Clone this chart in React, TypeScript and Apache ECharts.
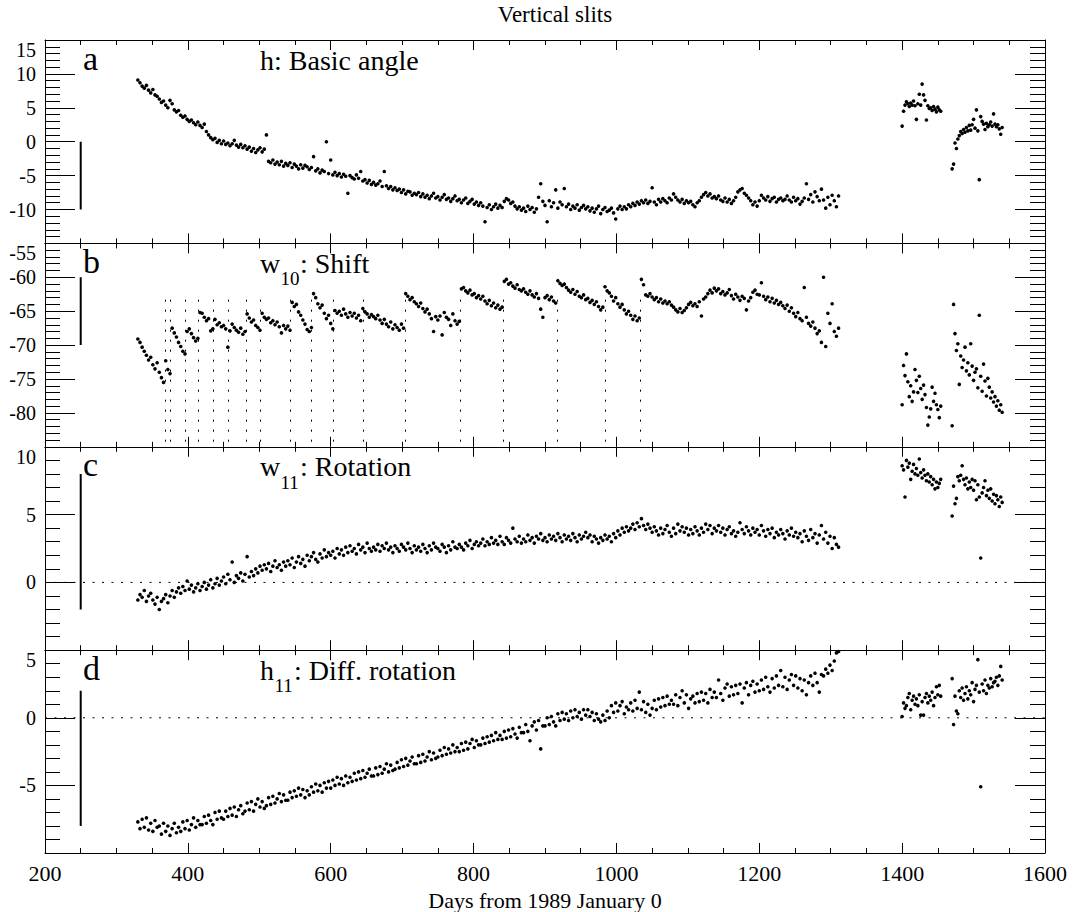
import React, { useEffect, useRef } from "react";
import * as echarts from "echarts";

// Observation days (days from 1989 January 0)
const DAYS = [
  330, 333, 336, 339, 342, 345, 348, 351, 354, 357,
  360, 363, 366, 369, 372, 375, 378, 381, 384, 387,
  390, 393, 396, 399, 402, 405, 408, 411, 414, 417,
  420, 423, 426, 429, 432, 435, 438, 441, 444, 447,
  450, 453, 456, 459, 462, 465, 468, 471, 474, 477,
  480, 483, 486, 489, 492, 495, 498, 501, 504, 507,
  510, 513, 516, 519, 522, 525, 528, 531, 534, 537,
  540, 543, 546, 549, 552, 555, 558, 561, 564, 567,
  570, 573, 576, 579, 582, 585, 588, 591, 594, 597,
  600, 603, 606, 609, 612, 615, 618, 621, 624, 627,
  630, 633, 636, 639, 642, 645, 648, 651, 654, 657,
  660, 663, 666, 669, 672, 675, 678, 681, 684, 687,
  690, 693, 696, 699, 702, 705, 708, 711, 714, 717,
  720, 723, 726, 729, 732, 735, 738, 741, 744, 747,
  750, 753, 756, 759, 762, 765, 768, 771, 774, 777,
  780, 783, 786, 789, 792, 795, 798, 801, 804, 807,
  810, 813, 816, 819, 822, 825, 828, 831, 834, 837,
  840, 843, 846, 849, 852, 855, 858, 861, 864, 867,
  870, 873, 876, 879, 882, 885, 888, 891, 894, 897,
  900, 903, 906, 909, 912, 915, 918, 921, 924, 927,
  930, 933, 936, 939, 942, 945, 948, 951, 954, 957,
  960, 963, 966, 969, 972, 975, 978, 981, 984, 987,
  990, 993, 996, 999, 1002, 1005, 1008, 1011, 1014, 1017,
  1020, 1023, 1026, 1029, 1032, 1035, 1038, 1041, 1044, 1047,
  1050, 1053, 1056, 1059, 1062, 1065, 1068, 1071, 1074, 1077,
  1080, 1083, 1086, 1089, 1092, 1095, 1098, 1101, 1104, 1107,
  1110, 1113, 1116, 1119, 1122, 1125, 1128, 1131, 1134, 1137,
  1140, 1143, 1146, 1149, 1152, 1155, 1158, 1161, 1164, 1167,
  1170, 1173, 1176, 1179, 1182, 1185, 1188, 1191, 1194, 1197,
  1200, 1203, 1206, 1209, 1212, 1215, 1218, 1221, 1224, 1227,
  1230, 1233, 1236, 1239, 1242, 1245, 1248, 1251, 1254, 1257,
  1260, 1263, 1266, 1269, 1272, 1275, 1278, 1281, 1284, 1287,
  1290, 1293, 1296, 1299, 1302, 1305, 1308, 1311,
  1400, 1402, 1404, 1406, 1408, 1410, 1412, 1414, 1416, 1418,
  1420, 1422, 1424, 1426, 1428, 1430, 1432, 1434, 1436, 1438,
  1440, 1442, 1444, 1446, 1448, 1450, 1452, 1454,
  1470, 1472, 1474, 1476, 1478, 1480, 1482, 1484, 1486, 1488,
  1490, 1492, 1494, 1496, 1498, 1500, 1502, 1504, 1506, 1508,
  1510, 1512, 1514, 1516, 1518, 1520, 1522, 1524, 1526, 1528,
  1530, 1532, 1534, 1536, 1538, 1540,
];

// a: h, Basic angle
const H_BASIC = [
  9.1, 8.7, 8.2, 7.9, 8.3, 7.6, 7.2, 7.7, 6.9, 6.7,
  6.3, 5.8, 6.0, 5.4, 5.0, 6.1, 5.6, 4.7, 4.4, 4.6,
  3.9, 3.6, 3.8, 3.3, 3.0, 3.2, 2.8, 2.5, 2.9, 2.4,
  2.1, 2.6, 1.5, 1.0, 0.6, 0.3, 0.5, -0.1, 0.2, -0.3,
  0.1, -0.4, -0.2, -0.6, -0.3, 0.2, -0.5, -0.8, -0.4, -0.9,
  -0.6, -1.1, -0.8, -1.4, -1.0, -1.6, -1.2, -0.9, -1.5, -1.1,
  1.0, -2.9, -3.1, -2.7, -3.3, -3.0, -3.4, -2.9, -3.6, -3.2,
  -3.5, -3.1, -3.8, -3.3, -3.6, -4.0, -3.4, -3.9, -3.5, -3.7,
  -4.1, -3.8, -2.2, -4.3, -4.0, -4.6, -4.2, -4.4, 0.0, -4.7,
  -2.7, -4.9, -4.5, -5.0, -4.7, -5.2, -4.8, -5.1, -7.6, -5.0,
  -5.3, -5.5, -4.9, -5.4, -4.4, -5.8, -5.6, -6.1, -5.7, -6.3,
  -6.0, -6.4, -6.2, -5.8, -6.6, -4.4, -6.5, -6.9, -6.6, -7.1,
  -6.8, -7.2, -7.0, -7.5, -7.1, -7.7, -7.3, -7.4, -7.9, -7.6,
  -7.8, -7.5, -8.1, -7.7, -8.2, -7.9, -8.4, -8.0, -7.6, -8.3,
  -8.1, -8.6, -8.2, -7.8, -8.5, -8.3, -8.8, -8.4, -8.0, -8.7,
  -8.5, -9.0, -8.6, -8.3, -9.1, -8.8, -8.5, -9.2, -8.9, -9.4,
  -9.0, -9.5, -11.8, -9.7, -9.3, -10.0, -9.6, -9.2, -9.8, -9.4,
  -9.7, -8.8, -8.4, -8.6, -9.1, -8.9, -9.5, -9.9, -9.6, -10.1,
  -9.8, -10.3, -9.5, -10.0, -9.7, -10.4, -9.9, -8.2, -6.2, -8.8,
  -9.4, -11.8, -8.7, -9.6, -9.0, -7.1, -9.8, -8.9, -9.3, -6.9,
  -9.6, -9.2, -10.0, -9.5, -9.8, -9.3, -10.1, -9.7, -9.4, -9.9,
  -9.6, -10.2, -9.8, -10.4, -9.9, -9.5, -10.6, -10.0, -9.7, -10.3,
  -10.1, -9.8, -10.5, -11.4, -9.9, -9.5, -10.0, -9.6, -9.9, -9.3,
  -9.6, -9.1, -9.4, -8.9, -9.2, -8.7, -9.0, -8.6, -9.1, -8.8,
  -6.8, -8.9, -9.3, -8.5, -8.9, -8.4, -8.7, -9.0, -8.3, -8.6,
  -7.7, -8.2, -8.6, -8.9, -8.5, -9.1, -8.7, -9.0, -8.8, -9.3,
  -9.6, -9.0, -8.7, -8.2, -7.8, -7.5, -8.0, -7.7, -8.3, -8.1,
  -8.4, -8.0, -8.6, -8.8, -8.3, -8.9, -8.5, -9.1, -8.7, -8.2,
  -7.4, -7.1, -6.9, -7.6, -7.9, -8.3, -8.7, -9.3, -8.9, -9.5,
  -8.7, -7.9, -8.3, -8.6, -8.1, -8.8, -8.4, -8.2, -8.9, -8.5,
  -8.3, -8.7, -8.5, -8.0, -8.6, -8.9, -8.2, -8.7, -8.4, -9.2,
  -8.8, -8.3, -6.2, -8.5, -7.8, -8.9, -7.4, -8.1, -8.7, -7.0,
  -8.6, -9.8, -8.2, -9.3, -7.9, -8.7, -9.6, -8.0,
  2.3, 4.5, 5.4, 5.9, 5.6, 5.2, 5.7, 5.4, 6.0, 5.3,
  3.3, 5.6, 7.0, 5.4, 8.5, 6.9, 6.1, 3.2, 5.3, 4.9,
  5.0, 4.6, 5.2, 4.8, 4.4, 5.1, 4.7, 4.5,
  -4.0, -3.3, -0.2, -1.0, 0.4, 0.9, 1.5, 1.2, 1.8, 1.4,
  2.1, 1.6, 2.4, 1.7, 2.5, 3.3, 2.0, 4.7, 1.6, -5.6,
  3.7, 3.0, 2.6, 1.8, 2.7, 2.2, 2.5, 2.9, 2.3, 4.1,
  2.6, 2.2, 2.5, 1.9, 1.1, 2.1,
];

// b: w10, Shift
const W10_SHIFT = [
  -69.1, -69.6, -70.3, -70.9, -71.5, -72.2, -71.8, -72.9, -73.5, -72.6,
  -74.0, -74.8, -75.5, -72.3, -73.6, -74.2, -67.5, -68.2, -68.8, -69.6,
  -70.2, -70.9, -71.3, -68.0, -67.6, -68.3, -68.9, -69.4, -69.0, -65.2,
  -65.3, -65.9, -66.4, -66.1, -67.9, -67.6, -66.2, -67.0, -66.7, -67.3,
  -67.1, -67.6, -70.3, -67.9, -66.9, -67.4, -67.8, -68.1, -67.5, -68.4,
  -68.0, -65.4, -66.0, -66.6, -66.3, -67.1, -67.4, -67.8, -65.3, -65.9,
  -66.2, -66.0, -66.7, -66.4, -67.0, -66.6, -67.3, -68.2, -67.1, -67.6,
  -67.2, -67.8, -63.7, -64.3, -64.0, -65.1, -65.6, -66.3, -66.9, -67.7,
  -68.0, -67.4, -62.4, -63.0, -63.9, -64.5, -64.1, -65.3, -66.1, -65.6,
  -66.8, -67.6, -64.9, -65.3, -65.0, -65.6, -64.7, -65.4, -65.9, -65.2,
  -65.7, -65.3, -66.0, -65.6, -66.4, -64.6, -65.1, -65.4, -65.9, -65.5,
  -65.8, -66.1, -65.6, -66.3, -66.8, -66.2, -66.9, -67.3, -66.6, -67.6,
  -67.0, -67.4, -67.8, -66.9, -67.5, -62.4, -62.8, -63.3, -63.0, -63.6,
  -63.9, -64.3, -63.8, -64.6, -65.1, -64.7, -65.4, -66.1, -68.0, -65.8,
  -66.3, -65.7, -68.5, -65.2, -65.9, -66.2, -67.1, -65.4, -66.4, -66.9,
  -66.5, -61.7, -61.5, -62.0, -62.3, -61.9, -62.6, -62.4, -63.0, -62.7,
  -63.2, -62.8, -63.5, -63.9, -63.4, -64.2, -63.8, -64.5, -64.1, -64.7,
  -64.4, -60.6, -60.3, -61.0, -60.8, -61.3, -61.6, -61.1, -61.8, -62.0,
  -61.7, -62.2, -62.5, -62.0, -62.6, -62.9, -62.4, -63.1, -64.7, -65.9,
  -63.0, -62.7, -63.3, -62.9, -63.5, -63.8, -60.5, -60.9, -61.2, -61.0,
  -61.5, -61.9, -62.2, -61.8, -62.5, -62.1, -62.8, -63.0, -62.6, -63.3,
  -63.1, -63.7, -63.4, -64.0, -63.6, -64.3, -64.8, -64.4, -61.4, -62.0,
  -62.3, -62.8, -63.5, -63.0, -63.9, -64.4, -64.0, -64.8, -65.4, -65.0,
  -65.6, -66.2, -65.7, -66.4, -66.0, -60.3, -61.1, -62.6, -62.8, -62.4,
  -62.9, -63.3, -63.0, -63.6, -63.2, -63.8, -63.5, -63.9, -63.6, -64.1,
  -64.4, -64.8, -65.1, -64.6, -65.2, -64.9, -64.5, -64.0, -63.7, -64.2,
  -63.9, -64.3, -63.6, -65.7, -63.2, -62.9, -62.4, -61.9, -62.3, -61.6,
  -62.0, -61.7, -62.4, -62.1, -62.6, -62.3, -61.8, -62.7, -63.2, -62.5,
  -62.9, -63.4, -62.8, -63.1, -64.8, -63.5, -63.0, -62.2, -61.9, -62.5,
  -62.6, -60.8, -62.8, -63.3, -62.9, -63.6, -63.1, -63.8, -63.4, -64.0,
  -63.7, -64.2, -64.6, -64.1, -65.0, -64.5, -65.3, -65.8, -65.2, -66.1,
  -66.4, -61.5, -65.9, -66.8, -67.2, -66.6, -67.5, -68.3, -67.9, -69.6,
  -60.0, -70.2, -65.3, -66.8, -63.9, -68.0, -68.7, -67.5,
  -78.8, -73.0, -74.5, -71.3, -75.4, -77.6, -76.0, -78.3, -76.9, -73.6,
  -75.2, -77.0, -74.6, -76.4, -78.0, -75.9, -77.3, -79.2, -81.8, -80.6,
  -79.4, -76.2, -78.3, -77.1, -78.8, -79.5, -80.7, -79.0,
  -81.9, -64.0, -68.3, -70.8, -69.8, -75.8, -71.6, -73.3, -72.2, -70.3,
  -73.8, -72.6, -74.4, -69.8, -73.1, -75.2, -74.0, -73.5, -76.3, -65.6,
  -74.6, -76.8, -72.8, -75.3, -77.5, -74.9, -76.2, -77.8, -76.9, -78.4,
  -77.6, -79.0, -78.2, -79.6, -78.8, -79.9,
];

// c: w11, Rotation
const W11_ROTATION = [
  -1.3, -0.9, -1.1, -0.6, -1.4, -1.0, -0.8, -1.3, -1.6, -1.1,
  -2.0, -1.4, -1.2, -0.9, -1.5, -1.0, -0.6, -1.1, -0.7, -0.4,
  -0.8, -0.3, -0.6, 0.1, -0.5, -0.2, -0.7, -0.4, -0.1, -0.6,
  -0.3, 0.0, -0.5, -0.2, 0.2, -0.4, -0.1, 0.3, -0.2, 0.1,
  0.4, -0.1, 0.6, 0.2, 1.5, 0.0, 0.5, 0.3, 0.7, 0.1,
  0.6, 1.9, 0.4, 0.8, 0.5, 1.0, 0.7, 1.2, 0.9, 1.3,
  1.0, 1.4, 0.8, 1.2, 1.6, 1.1, 1.3, 0.9, 1.5, 1.2,
  1.6, 1.3, 1.8, 1.1, 1.5, 1.9, 1.4, 1.7, 1.2, 2.0,
  1.6, 1.9, 2.2, 1.7, 1.5, 2.1, 1.8, 2.4, 1.9, 2.2,
  2.0, 2.3, 1.8, 2.5, 2.1, 2.4, 2.0, 2.6, 2.2, 2.7,
  2.3, 2.5, 2.1, 2.8, 2.4, 2.6, 2.2, 2.9, 2.5, 2.3,
  2.6, 2.4, 2.8, 2.3, 2.7, 2.5, 2.9, 2.4, 2.6, 2.2,
  2.7, 2.5, 2.3, 2.8, 2.6, 2.4, 2.9, 2.5, 2.2, 2.7,
  2.4, 2.6, 2.3, 2.8, 2.5, 2.2, 2.7, 2.4, 2.9, 2.6,
  2.5, 2.3, 2.8, 2.6, 2.2, 2.7, 2.4, 3.0, 2.6, 2.5,
  2.8, 2.6, 2.4, 2.9, 2.7, 3.1, 2.5, 2.8, 3.0, 2.7,
  2.9, 3.2, 2.7, 3.0, 2.8, 3.3, 2.9, 3.1, 2.8, 3.4,
  3.0, 2.8, 3.3, 3.1, 2.9, 4.0, 3.2, 3.0, 3.4, 2.9,
  3.2, 3.0, 3.5, 3.1, 3.3, 2.9, 3.4, 3.2, 3.6, 3.1,
  3.3, 3.0, 3.5, 3.2, 3.4, 3.1, 3.6, 3.3, 3.0, 3.5,
  3.2, 3.4, 3.1, 3.6, 3.3, 3.0, 3.5, 3.2, 3.4, 3.7,
  3.3, 3.5, 3.0, 3.4, 3.2, 2.9, 3.3, 3.1, 3.5, 3.2,
  3.4, 3.0, 3.6, 3.3, 3.8, 3.5, 4.0, 3.7, 4.1, 3.8,
  4.0, 4.3, 3.9, 4.4, 4.1, 4.7, 4.2, 3.9, 4.3, 4.0,
  3.7, 4.1, 3.8, 3.5, 4.0, 3.6, 3.9, 4.2, 3.7, 3.4,
  4.0, 3.6, 4.3, 3.8, 4.1, 3.7, 4.0, 3.5, 3.9, 3.6,
  4.1, 3.8, 3.5, 4.0, 3.7, 4.3, 3.9, 4.2, 3.6, 4.0,
  3.8, 4.2, 3.7, 4.0, 3.5, 3.9, 4.1, 3.6, 3.8, 3.4,
  3.7, 4.4, 3.9, 3.6, 4.1, 3.8, 3.5, 4.0, 3.7, 3.9,
  3.5, 4.2, 3.8, 3.4, 3.9, 3.6, 4.0, 3.3, 3.7, 3.5,
  3.9, 3.6, 3.2, 3.8, 3.5, 4.0, 3.4, 3.7, 3.3, 3.6,
  3.0, 3.8, 3.4, 3.1, 3.9, 3.3, 3.6, 2.9, 3.5, 4.2,
  3.2, 3.7, 2.9, 3.4, 2.5, 3.3, 2.8, 2.6,
  8.6, 8.3, 6.3, 9.0, 8.5, 8.8, 7.6, 8.2, 8.7, 8.0,
  8.4, 7.9, 9.1, 8.1, 7.7, 8.3, 7.9, 7.5, 8.0, 7.4,
  7.8, 7.2, 7.6, 6.9, 7.4, 7.0, 7.3, 7.6,
  4.9, 7.1, 5.8, 6.2, 7.8, 7.5, 7.9, 8.6, 7.6, 7.2,
  7.7, 6.9, 7.4, 7.0, 7.6, 6.8, 7.5, 6.1, 7.2, 6.3,
  1.8, 6.6, 7.0, 7.5, 6.4, 6.8, 6.2, 6.9, 6.0, 6.5,
  5.8, 6.4, 6.1, 5.6, 6.3, 5.9,
];

// d: h11, Diff. rotation
const H11_DIFF = [
  -7.7, -8.2, -7.5, -8.1, -7.4, -8.3, -7.8, -8.4, -7.6, -8.1,
  -8.0, -8.6, -7.8, -8.4, -8.0, -8.7, -8.2, -7.8, -8.5, -8.1,
  -8.4, -7.7, -8.2, -7.6, -8.3, -7.9, -7.4, -8.1, -7.6, -7.9,
  -7.9, -7.3, -7.8, -7.2, -7.6, -7.9, -7.0, -7.5, -6.9, -7.4,
  -7.5, -6.9, -7.3, -6.7, -7.2, -6.6, -7.3, -6.8, -6.5, -7.1,
  -6.9, -6.3, -6.8, -6.2, -6.9, -6.4, -6.0, -6.6, -6.2, -6.7,
  -6.5, -5.9, -6.4, -5.8, -6.3, -6.0, -5.6, -6.2, -5.7, -6.1,
  -6.1, -5.5, -5.9, -5.4, -5.8, -5.2, -5.7, -5.3, -5.9, -5.4,
  -5.7, -5.1, -5.5, -4.9, -5.4, -5.0, -5.5, -4.8, -5.2, -4.7,
  -5.2, -4.6, -5.0, -4.4, -4.9, -4.5, -5.0, -4.3, -4.8, -4.4,
  -4.7, -4.1, -4.6, -4.0, -4.5, -3.9, -4.4, -4.1, -3.8, -4.3,
  -4.3, -3.7, -4.2, -3.6, -4.1, -3.8, -3.4, -4.0, -3.5, -3.9,
  -3.8, -3.3, -3.7, -3.1, -3.6, -3.0, -3.5, -3.2, -2.9, -3.4,
  -3.4, -2.8, -3.3, -2.7, -3.2, -2.9, -2.5, -3.1, -2.6, -3.0,
  -2.9, -2.4, -2.8, -2.2, -2.7, -2.3, -2.6, -2.0, -2.5, -2.2,
  -2.5, -1.9, -2.4, -1.8, -2.3, -1.9, -1.6, -2.2, -1.7, -2.0,
  -2.0, -1.5, -1.9, -1.4, -1.8, -1.3, -1.7, -1.1, -1.6, -1.3,
  -1.6, -1.0, -1.5, -0.9, -1.4, -0.8, -1.2, -1.5, -0.7, -1.1,
  -1.1, -0.5, -1.0, -1.7, -0.6, -0.3, -0.9, -0.2, -2.3, -0.6,
  -0.6, 0.0, -0.5, 0.1, -0.3, -0.6, 0.3, -0.2, 0.4, -0.1,
  0.3, -0.2, 0.5, 0.0, 0.6, 0.1, 0.4, -0.1, 0.6, 0.2,
  0.6, 0.1, 0.4, -0.2, 0.3, -0.1, -0.3, 0.2, -0.2, 0.5,
  0.0, 0.9, 0.4, 1.1, 0.5, 0.9, 1.2, 0.3, 0.8, 0.6,
  1.1, 0.5, 1.3, 0.7, 1.9, 0.6, 1.2, 0.4, 1.0, 0.2,
  0.7, 1.3, 0.6, 1.4, 0.8, 1.5, 0.9, 1.6, 1.0, 1.3,
  1.0, 1.7, 0.9, 1.5, 2.0, 1.1, 1.7, 0.7, 1.4, 1.6,
  1.1, 1.8, 1.2, 1.9, 1.3, 1.8, 1.1, 2.1, 1.5, 1.9,
  1.5, 2.8, 1.8, 1.3, 2.2, 2.5, 1.6, 2.3, 1.7, 2.4,
  1.8, 2.5, 1.1, 2.2, 2.6, 1.7, 2.4, 2.7, 1.9, 2.5,
  2.0, 2.8, 2.1, 3.0, 2.3, 1.9, 2.9, 2.2, 3.1, 2.4,
  3.5, 2.3, 3.0, 2.1, 2.8, 3.2, 2.4, 3.1, 2.2, 2.9,
  2.0, 2.8, 1.7, 2.6, 3.1, 2.4, 3.3, 2.6, 1.9, 3.2,
  3.1, 3.6, 3.3, 3.9, 3.5, 4.2, 4.8, 4.9,
  0.1, 1.1, 0.7, 0.9, 1.5, 1.8, 0.6, 1.3, 1.6, 1.0,
  1.4, 0.9, 1.7, 0.2, 1.2, 0.2, 1.5, 1.8, 1.1, 1.6,
  1.3, 1.9, 0.9, 1.5, 2.3, 1.7, 2.4, 1.6,
  2.9, -0.5, 1.6, 0.5, 0.3, 2.0, 1.5, 2.2, 1.3, 1.8,
  2.3, 1.4, 2.0, 1.7, 2.6, 1.2, 2.1, 2.4, 4.3, 1.9,
  -5.1, 2.5, 2.0, 2.8, 1.8, 2.4, 2.2, 2.9, 2.3, 2.6,
  2.7, 3.0, 2.4, 3.1, 3.8, 2.8,
];

// Days of the dotted vertical markers in panel b
const BREAK_DAYS = [368, 376, 397, 415, 436, 457, 482, 502, 544, 573, 604, 645, 704, 782, 842, 917, 984, 1034];
const BREAK_TOP = -63.3;

// Panel scales and 10-unit scale bars (at day 250)
const PANEL_MIN = [-15, -85, -5, -10];
const PANEL_MAX = [15, -55, 10, 5];
const SCALE_BAR = [[0, -10], [-60, -70], [8, -2], [2, -8]];
const SCALE_BAR_DAY = 250;
const ZERO_LINE = [false, false, true, true];
const PANEL_VALUES = [H_BASIC, W10_SHIFT, W11_ROTATION, H11_DIFF];
const LETTERS = ["a", "b", "c", "d"];
const LABEL_MAIN = ["h: Basic angle", "w", "w", "h"];
const LABEL_SUB = ["", "10", "11", "11"];
const LABEL_REST = ["", ": Shift", ": Rotation", ": Diff. rotation"];
const X_MIN = 200;
const X_MAX = 1600;
const X_STEP = 200;

const SERIF = "'Liberation Serif', 'Times New Roman', Times, serif";

function buildOption() {
  const W = 1073;
  const left = 45;
  const right = W - 1045;
  const tops = [40, 243.4, 446.8, 650.2];
  const ph = 203.4;
  const black = "#000";

  const grid: any[] = [];
  const xAxis: any[] = [];
  const yAxis: any[] = [];
  const series: any[] = [];
  const graphic: any[] = [];

  for (let i = 0; i < 4; i++) {
    grid.push({ left, right, top: tops[i], height: ph, containLabel: false });
    const isLast = i === 3;
    const xBase = {
      gridIndex: i,
      type: "value",
      min: X_MIN,
      max: X_MAX,
      interval: X_STEP,
      splitLine: { show: false },
      axisLine: { show: true, onZero: false, lineStyle: { color: black, width: 1 } },
      axisTick: { show: true, inside: true, length: 10, lineStyle: { color: black, width: 1 } },
      minorTick: { show: true, splitNumber: 4, length: 5, lineStyle: { color: black, width: 1 } },
      minorSplitLine: { show: false },
    };
    xAxis.push({
      ...xBase,
      position: "bottom",
      axisLabel: {
        show: isLast,
        color: black,
        fontSize: 22,
        fontFamily: SERIF,
        margin: 9,
        showMinLabel: true,
        showMaxLabel: true,
        formatter: (v: number) => String(v),
      },
      name: isLast ? "Days from 1989 January 0" : "",
      nameLocation: "middle",
      nameGap: 36,
      nameTextStyle: { color: black, fontSize: 22, fontFamily: SERIF },
    });
    xAxis.push({ ...xBase, position: "top", axisLabel: { show: false } });

    const yBase = {
      gridIndex: i,
      type: "value",
      min: PANEL_MIN[i],
      max: PANEL_MAX[i],
      interval: 5,
      splitLine: { show: false },
      axisLine: { show: true, onZero: false, lineStyle: { color: black, width: 1 } },
      axisTick: { show: true, inside: true, length: 30, lineStyle: { color: black, width: 1 } },
      minorTick: { show: true, splitNumber: 5, length: 15, lineStyle: { color: black, width: 1 } },
      minorSplitLine: { show: false },
    };
    yAxis.push({
      ...yBase,
      position: "left",
      axisLabel: {
        show: true,
        color: black,
        fontSize: 20,
        fontFamily: SERIF,
        margin: 9,
        showMinLabel: false,
        showMaxLabel: true,
        verticalAlignMaxLabel: "top",
        formatter: (v: number) => String(v),
      },
    });
    yAxis.push({ ...yBase, position: "right", axisLabel: { show: false } });

    const vals = PANEL_VALUES[i];
    const scatter: any = {
      type: "scatter",
      xAxisIndex: 2 * i,
      yAxisIndex: 2 * i,
      data: DAYS.map((d, k) => [d, vals[k]]),
      symbol: "circle",
      symbolSize: 3.6,
      itemStyle: { color: black, opacity: 1 },
      silent: true,
      clip: true,
    };
    if (i === 1) {
      scatter.markLine = {
        silent: true,
        symbol: ["none", "none"],
        label: { show: false },
        lineStyle: { color: black, width: 1, type: [2, 8] },
        data: BREAK_DAYS.map((d) => [
          { coord: [d, BREAK_TOP] },
          { coord: [d, PANEL_MIN[1]] },
        ]),
      };
    }
    series.push(scatter);

    series.push({
      type: "line",
      xAxisIndex: 2 * i,
      yAxisIndex: 2 * i,
      data: [
        [SCALE_BAR_DAY, SCALE_BAR[i][0]],
        [SCALE_BAR_DAY, SCALE_BAR[i][1]],
      ],
      symbol: "none",
      silent: true,
      lineStyle: { color: black, width: 2 },
    });

    if (ZERO_LINE[i]) {
      series.push({
        type: "line",
        xAxisIndex: 2 * i,
        yAxisIndex: 2 * i,
        data: [
          [X_MIN, 0],
          [X_MAX, 0],
        ],
        symbol: "none",
        silent: true,
        lineStyle: { color: black, width: 1, type: [2, 7.5] },
      });
    }

    // Panel letter
    graphic.push({
      type: "text",
      x: 83,
      y: tops[i] + 18,
      style: { text: LETTERS[i], fontSize: 34, fontFamily: SERIF, fill: black, align: "left", verticalAlign: "middle" },
    });
    // Panel label
    const mainX = 260;
    graphic.push({
      type: "text",
      x: mainX,
      y: tops[i] + 20,
      style: { text: LABEL_MAIN[i], fontSize: 28, fontFamily: SERIF, fill: black, align: "left", verticalAlign: "middle" },
    });
    if (LABEL_SUB[i]) {
      const mainW = LABEL_MAIN[i] === "w" ? 20.5 : 14.5;
      graphic.push({
        type: "text",
        x: mainX + mainW,
        y: tops[i] + 35.2,
        style: { text: LABEL_SUB[i], fontSize: 19, fontFamily: SERIF, fill: black, align: "left", verticalAlign: "middle" },
      });
      graphic.push({
        type: "text",
        x: mainX + mainW + 19.5,
        y: tops[i] + 20,
        style: { text: LABEL_REST[i], fontSize: 28, fontFamily: SERIF, fill: black, align: "left", verticalAlign: "middle" },
      });
    }
  }

  graphic.push({
    type: "text",
    x: 555,
    y: 14,
    style: { text: "Vertical slits", fontSize: 23, fontFamily: SERIF, fill: black, align: "center", verticalAlign: "middle" },
  });

  return {
    animation: false,
    backgroundColor: "#fff",
    textStyle: { fontFamily: SERIF },
    grid,
    xAxis,
    yAxis,
    series,
    graphic,
  };
}

export default function App() {
  const ref = useRef<HTMLDivElement>(null);
  useEffect(() => {
    if (!ref.current) return;
    const chart = echarts.init(ref.current, undefined, { renderer: "svg" });
    chart.setOption(buildOption() as any);
    return () => chart.dispose();
  }, []);
  return (
    <div
      ref={ref}
      style={{ position: "absolute", left: 0, top: 0, width: 1073, height: 912, background: "#fff" }}
    />
  );
}
